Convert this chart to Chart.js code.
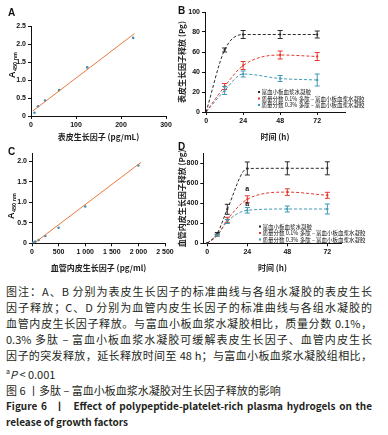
<!DOCTYPE html>
<html>
<head>
<meta charset="utf-8">
<script src="https://cdn.jsdelivr.net/npm/chart.js@4.4.0/dist/chart.umd.min.js"></script>
<style>
body { margin: 0; width: 388px; height: 435px; background: #fff; position: relative; overflow: hidden; font-family: "Noto Sans CJK SC", sans-serif; }
.box { position: absolute; }
.lbl { position: absolute; font: bold 10px "Liberation Sans", Arial, sans-serif; color: #111; }
#cap { position: absolute; left: 6px; top: 283px; width: 366px; font-size: 11px; line-height: 16px; color: #231f20; white-space: nowrap; }
#cap .j { text-align: justify; text-align-last: justify; white-space: normal; }
#cap .b { font-weight: bold; font-size: 10px; }
</style>
</head>
<body>
<div class="box" style="left:0;top:0"><canvas id="cA" width="190" height="145"></canvas></div>
<div class="box" style="left:172px;top:0"><canvas id="cB" width="216" height="145"></canvas></div>
<div class="box" style="left:0;top:140px"><canvas id="cC" width="190" height="140"></canvas></div>
<div class="box" style="left:172px;top:140px"><canvas id="cD" width="216" height="140"></canvas></div>
<div class="lbl" style="left:8px;top:7px">A</div>
<div class="lbl" style="left:178px;top:5px">B</div>
<div class="lbl" style="left:8px;top:146px">C</div>
<div class="lbl" style="left:178px;top:141px">D</div>
<div id="cap">
<div class="j">图注：A、B 分别为表皮生长因子的标准曲线与各组水凝胶的表皮生长</div>
<div class="j">因子释放；C、D 分别为血管内皮生长因子的标准曲线与各组水凝胶的</div>
<div class="j">血管内皮生长因子释放。与富血小板血浆水凝胶相比，质量分数 0.1%，</div>
<div class="j">0.3% 多肽 – 富血小板血浆水凝胶可缓解表皮生长因子、血管内皮生长</div>
<div class="j">因子的突发释放，延长释放时间至 48 h；与富血小板血浆水凝胶组相比，</div>
<div><sup style="font-size:7px">a</sup><i>P</i> &lt; 0.001</div>
<div>图 6 丨多肽 – 富血小板血浆水凝胶对生长因子释放的影响</div>
<div class="j b">Figure 6 &nbsp;丨&nbsp; Effect of polypeptide-platelet-rich plasma hydrogels on the</div>
<div class="b">release of growth factors</div>
</div>
<script>
// ---- panel A: EGF standard curve
const egfConc = [7.8, 15.6, 31.25, 62.5, 125, 227];
const egfAbs = [0.09, 0.27, 0.43, 0.72, 1.35, 2.17];
const egfFitX = [4, 230];
const egfFitY = [0.14, 2.29];
const aXTicks = [0, 100, 200, 300];
const aYTicks = [0, 0.5, 1.0, 1.5, 2.0, 2.5];

// ---- panel C: VEGF standard curve
const vegfConc = [0, 31.25, 62.5, 125, 250, 500, 1000, 2000];
const vegfAbs = [0.01, 0.02, 0.04, 0.08, 0.18, 0.38, 0.9, 1.9];
const vegfFitX = [40, 2050];
const vegfFitY = [0, 1.98];
const cXTicks = [0, 500, 1000, 1500, 2000, 2500];
const cXLabels = ['0', '500', '1 000', '1 500', '2 000', '2 500'];
const cYTicks = [0, 0.5, 1.0, 1.5, 2.0];

// ---- panel B: EGF release (Pg)
const timesB = [0, 12, 24, 48, 72];
const prpB = [0, 62, 77.5, 77.5, 77.5];
const prpBErr = [0, 2, 4, 4, 3.5];
const pep01B = [0, 25.5, 46.5, 57, 55.5];
const pep01BErr = [0, 3, 4, 4, 4];
const pep03B = [0, 21.5, 38, 33.5, 32];
const pep03BErr = [0, 4, 3, 3, 6];
const bYTicks = [0, 20, 40, 60, 80, 100];

// ---- panel D: VEGF release (Pg)
const timesD = [0, 6, 12, 24, 48, 72];
const prpD = [0, 100, 340, 748, 750, 750];
const prpDErr = [0, 8, 50, 65, 65, 65];
const pep01D = [0, 80, 235, 440, 512, 480];
const pep01DErr = [0, 8, 25, 35, 33, 30];
const pep03D = [0, 80, 218, 330, 343, 343];
const pep03DErr = [0, 8, 20, 28, 30, 50];
const dYTicks = [0, 200, 400, 600, 800];
const dSig = [{ x: 24, y: 545, text: 'a' }, { x: 24, y: 390, text: 'a' }];

const timeTicks = [0, 24, 48, 72];
const seriesNames = ['富血小板血浆水凝胶', '质量分数 0.1% 多肽 – 富血小板血浆水凝胶', '质量分数 0.3% 多肽 – 富血小板血浆水凝胶'];
const seriesColors = ['#2b2b2b', '#e23a2e', '#3e9ab6'];

const tickFont = { family: 'Liberation Sans', size: 7, weight: 'bold' };
const titleFont = { family: 'Noto Sans CJK SC', size: 8, weight: 'bold' };
const pts = (xs, ys) => xs.map((x, i) => ({ x: x, y: ys[i] }));

function axis(min, max, ticks, labels, fitSize, horiz, title, titlePad) {
  return {
    type: 'linear', min: min, max: max,
    afterBuildTicks: s => { s.ticks = ticks.map(v => ({ value: v })); },
    afterFit: s => { if (horiz) s.height = fitSize; else s.width = fitSize; },
    ticks: {
      font: tickFont, color: '#111', padding: 2, autoSkip: false, maxRotation: 0,
      callback: v => { const i = ticks.indexOf(v); return labels ? labels[i] : String(v); }
    },
    grid: { drawOnChartArea: false, drawTicks: true, tickLength: 3, color: '#111', lineWidth: 1 },
    border: { display: true, color: '#111', width: 1 },
    title: title ? { display: true, text: title, font: titleFont, color: '#222', padding: titlePad } : { display: false }
  };
}

const errorBars = {
  id: 'errorBars',
  afterDatasetsDraw(chart) {
    const ctx = chart.ctx, xs = chart.scales.x, ys = chart.scales.y;
    chart.data.datasets.forEach(ds => {
      if (!ds.errors) return;
      ctx.save();
      ctx.strokeStyle = ds.borderColor;
      ctx.lineWidth = 1;
      ds.data.forEach((p, i) => {
        const e = ds.errors[i];
        if (!e) return;
        const x = xs.getPixelForValue(p.x);
        const y1 = ys.getPixelForValue(p.y - e), y2 = ys.getPixelForValue(p.y + e);
        ctx.beginPath();
        ctx.moveTo(x, y1); ctx.lineTo(x, y2);
        ctx.moveTo(x - 2.5, y1); ctx.lineTo(x + 2.5, y1);
        ctx.moveTo(x - 2.5, y2); ctx.lineTo(x + 2.5, y2);
        ctx.stroke();
      });
      ctx.restore();
    });
  }
};

const legendBox = {
  id: 'legendBox',
  afterDraw(chart, args, opts) {
    if (!opts || opts.x === undefined) return;
    const ctx = chart.ctx;
    ctx.save();
    ctx.textBaseline = 'middle';
    ctx.font = '5.5px "Noto Sans CJK SC"';
    seriesNames.forEach((name, i) => {
      const y = opts.y + i * opts.dy;
      ctx.fillStyle = seriesColors[i];
      ctx.fillRect(opts.x, y - 1, 2, 2);
      ctx.fillStyle = '#111';
      ctx.fillText(name, opts.x + 3.5, y);
    });
    ctx.restore();
  }
};

const absTitle = {
  id: 'absTitle',
  afterDraw(chart, args, opts) {
    if (!opts || opts.x === undefined) return;
    const ctx = chart.ctx;
    ctx.save();
    ctx.translate(opts.x, opts.y);
    ctx.rotate(-Math.PI / 2);
    ctx.fillStyle = '#111';
    ctx.textBaseline = 'middle';
    ctx.font = 'bold 9px "Liberation Sans"';
    ctx.fillText('A', 0, 0);
    const w = ctx.measureText('A').width;
    ctx.font = 'bold 5.5px "Liberation Sans"';
    ctx.fillText(opts.sub, w + 0.5, 2.5);
    ctx.restore();
  }
};

const sigLabels = {
  id: 'sigLabels',
  afterDraw(chart, args, opts) {
    if (!opts || !opts.items) return;
    const ctx = chart.ctx;
    ctx.save();
    ctx.fillStyle = '#111';
    ctx.font = 'bold 7px "Liberation Sans"';
    ctx.textAlign = 'center';
    ctx.textBaseline = 'middle';
    opts.items.forEach(s => ctx.fillText(s.text, chart.scales.x.getPixelForValue(s.x), chart.scales.y.getPixelForValue(s.y)));
    ctx.restore();
  }
};

function baseOptions(padding, xAxis, yAxis, extra) {
  return {
    responsive: false, animation: false, devicePixelRatio: 1,
    layout: { padding: padding },
    scales: { x: xAxis, y: yAxis },
    plugins: Object.assign({ legend: { display: false }, tooltip: { enabled: false } }, extra)
  };
}

function stdCurve(id, xv, yv, fx, fy, pad, xAx, yAx, sub) {
  new Chart(document.getElementById(id), {
    type: 'scatter',
    data: {
      datasets: [
        { type: 'line', data: pts(fx, fy), borderColor: '#e57a3c', borderWidth: 1, pointRadius: 0, fill: false },
        { data: pts(xv, yv), backgroundColor: '#3f8fb4', borderColor: '#3f8fb4', pointRadius: 1.3, pointBorderWidth: 0 }
      ]
    },
    options: baseOptions(pad, xAx, yAx, { absTitle: sub }),
    plugins: [absTitle]
  });
}

function releaseChart(id, t, series, errs, pad, xAx, yAx, extra) {
  new Chart(document.getElementById(id), {
    type: 'line',
    data: {
      datasets: series.map((s, i) => ({
        data: pts(t, s), errors: errs[i],
        borderColor: seriesColors[i], backgroundColor: seriesColors[i],
        borderWidth: 1, borderDash: [3, 2], cubicInterpolationMode: 'monotone',
        pointStyle: 'rect', pointRadius: 1.4, pointBorderWidth: 0, fill: false
      }))
    },
    options: baseOptions(pad, xAx, yAx, extra),
    plugins: [errorBars, legendBox, sigLabels]
  });
}

stdCurve('cA', egfConc, egfAbs, egfFitX, egfFitY,
  { top: 26, right: 24, left: 0, bottom: 0 },
  axis(0, 300, aXTicks, null, 29, true, '表皮生长因子 (pg/mL)', { top: 0, bottom: 3 }),
  axis(0, 2.5, aYTicks, ['0', '0.5', '1.0', '1.5', '2.0', '2.5'], 31, false, null),
  { x: 13, y: 78, sub: '450 nm' });

stdCurve('cC', vegfConc, vegfAbs, vegfFitX, vegfFitY,
  { top: 13.3, right: 25, left: 0, bottom: 0 },
  axis(0, 2500, cXTicks, cXLabels, 36.7, true, '血管内皮生长因子 (pg/ml)', { top: 0, bottom: 7 }),
  axis(0, 2.2, cYTicks, ['0', '0.5', '1.0', '1.5', '2.0'], 32, false, null),
  { x: 12, y: 219 - 140, sub: '450 nm' });

releaseChart('cB', timesB, [prpB, pep01B, pep03B], [prpBErr, pep01BErr, pep03BErr],
  { top: 12, right: 43, left: 0, bottom: 0 },
  axis(-0.7, 90, timeTicks, null, 33, true, '时间 (h)', { top: 0, bottom: 3 }),
  axis(0, 100, bYTicks, null, 33, false, '表皮生长因子释放 (Pg)', { top: 5, bottom: 0 }),
  { legendBox: { x: 86, y: 92, dy: 6.5 }, sigLabels: { items: [] } });

releaseChart('cD', timesD, [prpD, pep01D, pep03D], [prpDErr, pep01DErr, pep03DErr],
  { top: 13.3, right: 46.3, left: 0, bottom: 0 },
  axis(-2.4, 80.6, timeTicks, null, 36.7, true, '时间 (h)', { top: 0, bottom: 7 }),
  axis(0, 900, dYTicks, null, 31.3, false, '血管内皮生长因子释放 (Pg)', { top: 5, bottom: 0 }),
  { legendBox: { x: 87, y: 86.5, dy: 6.5 }, sigLabels: { items: dSig } });
</script>
</body>
</html>
